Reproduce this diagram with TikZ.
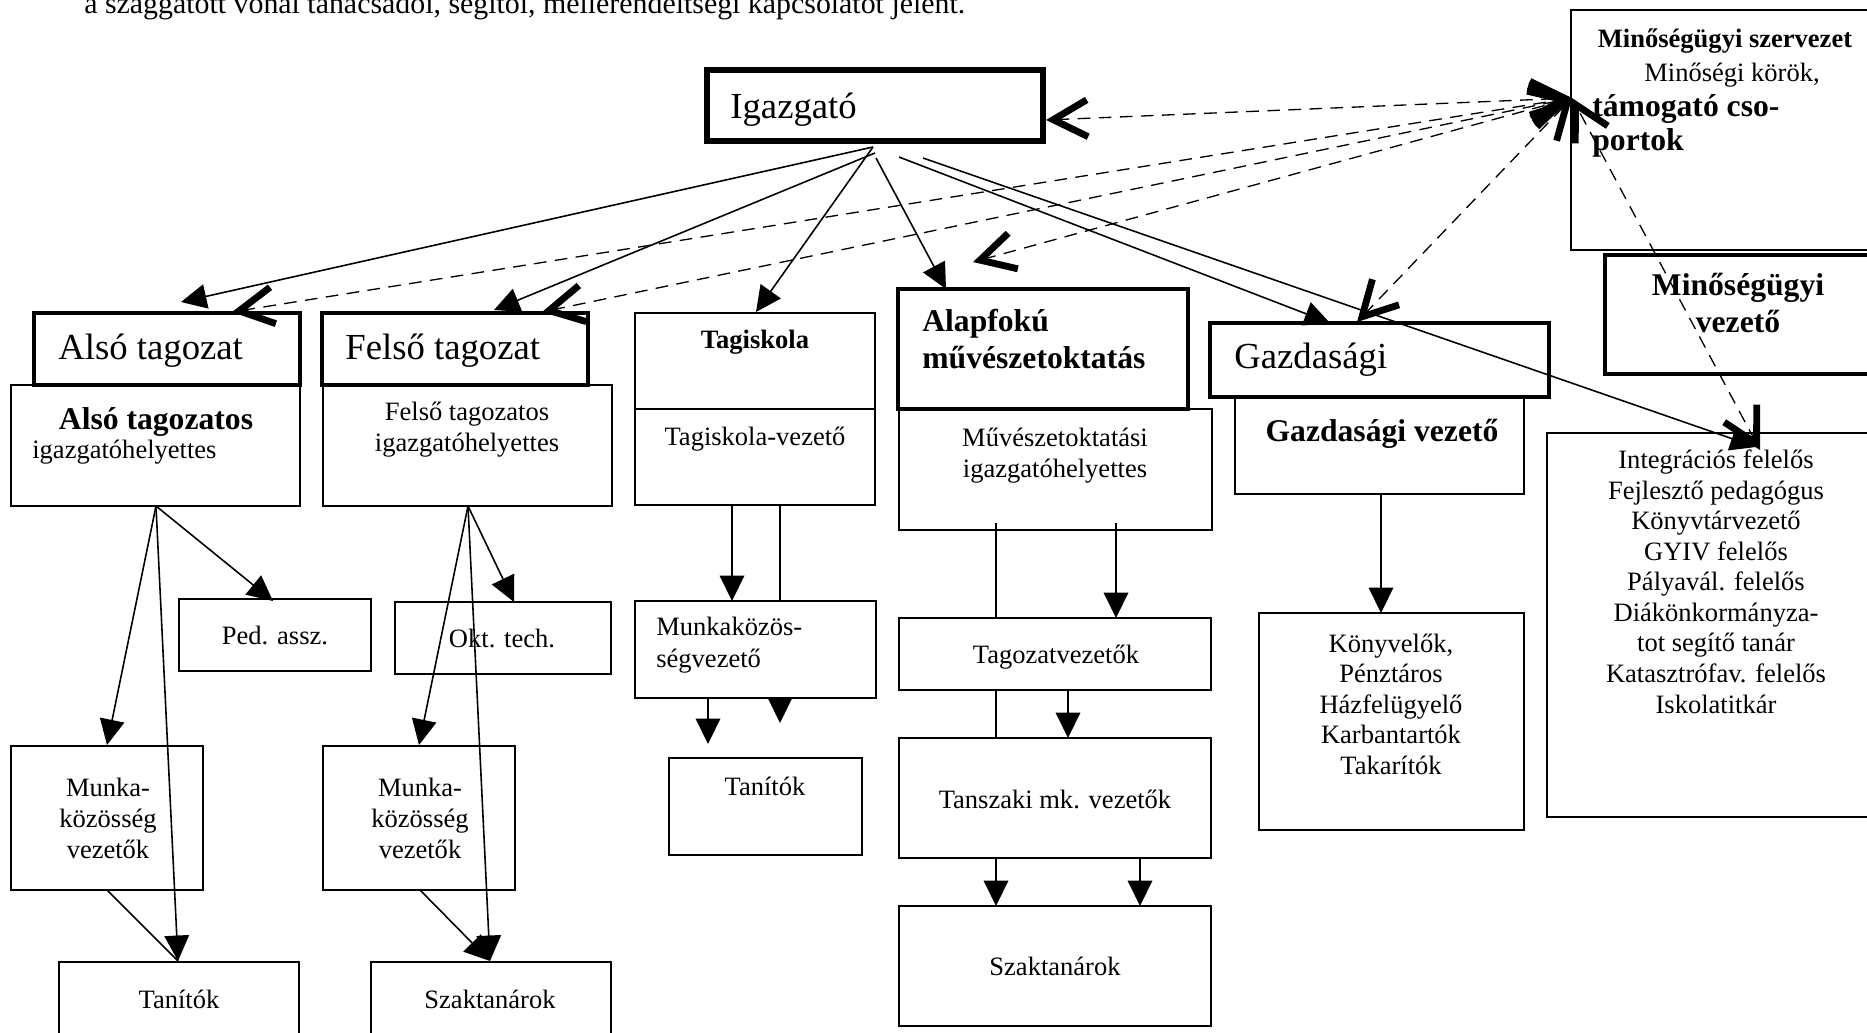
\documentclass[tikz,border=0pt]{standalone}
\usepackage{fontspec}
\setmainfont{Liberation Serif}
\usetikzlibrary{arrows.meta,fit}

\newcommand{\fhead}{\fontsize{17pt}{20pt}\selectfont}
\newcommand{\fbig}{\fontsize{20.9pt}{25pt}\selectfont}
\newcommand{\fmid}{\fontsize{18pt}{20.9pt}\selectfont\bfseries}
\newcommand{\fnorm}{\fontsize{15.1pt}{17.4pt}\selectfont}

\tikzset{
  orgbox/.style={draw, line width=1.15pt, fill=white},
  conn/.style={line width=0.9pt, -{Triangle[length=14.5pt,width=14pt]}},
  bare/.style={line width=0.9pt},
  advice/.style={line width=0.75pt, dash pattern=on 7.2pt off 4.8pt,
    >={Straight Barb[length=19.5pt,width=21pt,line width=3.9pt,sharp]}, <->}
}

\begin{document}
\begin{tikzpicture}[x=0.02cm,y=-0.02cm]
      \tikzstyle{every node}+=[inner sep=0pt]
      \useasboundingbox (0,0) rectangle (1867,1032);
      \node[anchor=base west, font=\fhead] (note) at (84,13) {a szaggatott vonal tanácsadói, segítői, mellérendeltségi kapcsolatot jelent.};
      \node[orgbox, line width=3.6pt, fit={(707,70) (1043,141)}] (igaz) {};
      \node[anchor=base west, font=\fbig] (igazL) at (730,118) {Igazgató};
      \node[orgbox, line width=1.5pt, fit={(1571,10) (1890,250)}] (minoseg) {};
      \node[anchor=base, font=\fnorm\bfseries] (minosegL) at (1725,47) {Minőségügyi szervezet};
      \node[anchor=base, font=\fnorm] (korokL) at (1732,81) {Minőségi körök,};
      \node[anchor=base west, align=left, font=\fontsize{18pt}{18.8pt}\selectfont\bfseries] (csopL) at (1592,150) {támogató cso-\\portok};
      \node[orgbox, fit={(11,385) (300,506)}] (alsoH) {};
      \node[orgbox, line width=1.8pt, fit={(34,313) (300,385)}] (alsoT) {};
      \node[anchor=base west, font=\fbig] (alsoTL) at (58,359) {Alsó tagozat};
      \node[anchor=base, font=\fmid] (alsoHL) at (156,429) {Alsó tagozatos};
      \node[anchor=base west, font=\fnorm] (alsoHL2) at (32,458) {igazgatóhelyettes};
      \node[orgbox, fit={(323,385) (612,506)}] (felsoH) {};
      \node[orgbox, line width=1.8pt, fit={(322,313) (588,385)}] (felsoT) {};
      \node[anchor=base west, font=\fbig] (felsoTL) at (345,359) {Felső tagozat};
      \node[anchor=base, align=center, font=\fnorm] (felsoHL) at (467,451) {Felső tagozatos\\igazgatóhelyettes};
      \node[orgbox, fit={(635,313) (875,409)}] (tagT) {};
      \node[orgbox, fit={(635,409) (875,505)}] (tagH) {};
      \node[anchor=base, font=\fnorm\bfseries] (tagTL) at (755,348) {Tagiskola};
      \node[anchor=base, font=\fnorm] (tagHL) at (755,445) {Tagiskola-vezető};
      \node[orgbox, fit={(899,409) (1212,530)}] (muvH) {};
      \node[orgbox, line width=2pt, fit={(898,289) (1188,409)}] (alapT) {};
      \node[anchor=base west, align=left, font=\fmid] (alapTL) at (922,368) {Alapfokú\\művészetoktatás};
      \node[anchor=base, align=center, font=\fnorm] (muvHL) at (1055,477) {Művészetoktatási\\igazgatóhelyettes};
      \node[orgbox, fit={(1235,397) (1524,494)}] (gazH) {};
      \node[orgbox, line width=1.8pt, fit={(1210,323) (1549,397)}] (gazT) {};
      \node[anchor=base west, font=\fbig] (gazTL) at (1234,368) {Gazdasági};
      \node[anchor=base, font=\fmid] (gazHL) at (1382,441) {Gazdasági vezető};
      \node[orgbox, line width=1.8pt, fit={(1605,255) (1890,374)}] (mvez) {};
      \node[anchor=base, align=center, font=\fmid] (mvezL) at (1738,332) {Minőségügyi\\vezető};
      \node[orgbox, fit={(1547,433) (1890,817)}] (integ) {};
      \node[anchor=base, align=center, font=\fnorm] (integL) at (1716,713) {Integrációs felelős\\Fejlesztő pedagógus\\Könyvtárvezető\\GYIV felelős\\Pályavál. felelős\\Diákönkormányza-\\tot segítő tanár\\Katasztrófav. felelős\\Iskolatitkár};
      \coordinate (tagS2) at (780,505);
      \coordinate (tagEnd) at (780,723);
      \coordinate (muvS1) at (996,523);
      \coordinate (szakAIn1) at (996,906);
      \draw[conn] (tagS2) -- (tagEnd);
      \draw[conn] (muvS1) -- (szakAIn1);
      \node[orgbox, fit={(179,599) (371,671)}] (ped) {};
      \node[anchor=base, font=\fnorm] (pedL) at (275,644) {Ped. assz.};
      \node[orgbox, fit={(11,746) (203,890)}] (mkL) {};
      \node[anchor=base, align=center, font=\fnorm] (mkLL) at (108,858) {Munka-\\közösség\\vezetők};
      \node[orgbox, fit={(59,962) (299,1045)}] (tanL) {};
      \node[anchor=base, font=\fnorm] (tanLL) at (179,1008) {Tanítók};
      \node[orgbox, fit={(395,602) (611,674)}] (okt) {};
      \node[anchor=base, font=\fnorm] (oktL) at (502,647) {Okt. tech.};
      \node[orgbox, fit={(323,746) (515,890)}] (mkR) {};
      \node[anchor=base, align=center, font=\fnorm] (mkRL) at (420,858) {Munka-\\közösség\\vezetők};
      \node[orgbox, fit={(371,962) (611,1045)}] (szakL) {};
      \node[anchor=base, font=\fnorm] (szakLL) at (490,1008) {Szaktanárok};
      \node[orgbox, fit={(635,601) (876,698)}] (mkT) {};
      \node[anchor=base west, align=left, font=\fontsize{15.1pt}{18.2pt}\selectfont] (mkTL) at (656,667) {Munkaközös-\\ségvezető};
      \node[orgbox, fit={(669,758) (862,855)}] (tanT) {};
      \node[anchor=base, font=\fnorm] (tanTL) at (765,795) {Tanítók};
      \node[orgbox, fit={(899,618) (1211,690)}] (tagv) {};
      \node[anchor=base, font=\fnorm] (tagvL) at (1056,663) {Tagozatvezetők};
      \node[orgbox, fit={(899,738) (1211,858)}] (tansz) {};
      \node[anchor=base, font=\fnorm] (tanszL) at (1055,808) {Tanszaki mk. vezetők};
      \node[orgbox, fit={(899,906) (1211,1026)}] (szakA) {};
      \node[anchor=base, font=\fnorm] (szakAL) at (1055,975) {Szaktanárok};
      \node[orgbox, fit={(1259,613) (1524,830)}] (konyv) {};
      \node[anchor=base, align=center, font=\fontsize{15.1pt}{17.3pt}\selectfont] (konyvL) at (1391,774) {Könyvelők,\\Pénztáros\\Házfelügyelő\\Karbantartók\\Takarítók};
      \coordinate (ig1) at (873,147);
      \coordinate (ig2) at (875,153);
      \coordinate (ig3) at (873,147);
      \coordinate (ig4) at (876,158);
      \coordinate (ig5) at (899,157);
      \coordinate (ig6) at (923,158);
      \coordinate (alsoIn) at (181,302);
      \coordinate (felsoIn) at (494,310);
      \coordinate (tagIn) at (756,312);
      \coordinate (alapIn) at (946,289);
      \coordinate (gazIn) at (1330,323);
      \coordinate (integIn) at (1756,447);
      \draw[conn] (ig1) -- (alsoIn);
      \draw[conn] (ig2) -- (felsoIn);
      \draw[conn] (ig3) -- (tagIn);
      \draw[conn] (ig4) -- (alapIn);
      \draw[conn] (ig5) -- (gazIn);
      \draw[conn] (ig6) -- (integIn);
      \coordinate (q) at (1572,98);
      \coordinate (igazB) at (1046,120);
      \coordinate (alsoB) at (232,312);
      \coordinate (felsoB) at (542,312);
      \coordinate (alapB) at (973,262);
      \coordinate (gazB) at (1357,322);
      \coordinate (integB) at (1760,450);
      \draw[advice] (igazB) -- (q);
      \draw[advice] (alsoB) -- (q);
      \draw[advice] (felsoB) -- (q);
      \draw[advice] (alapB) -- (q);
      \draw[advice] (gazB) -- (q);
      \draw[advice] (integB) -- (q);
      \coordinate (alsoS) at (156,506);
      \coordinate (pedIn) at (273,601);
      \coordinate (mkLIn) at (107,745);
      \coordinate (tanLIn) at (178,961);
      \coordinate (mkLS) at (107,890);
      \draw[conn] (alsoS) -- (pedIn);
      \draw[conn] (alsoS) -- (mkLIn);
      \draw[conn] (alsoS) -- (tanLIn);
      \draw[bare] (mkLS) -- (tanLIn);
      \coordinate (felsoS) at (468,506);
      \coordinate (oktIn) at (514,602);
      \coordinate (mkRIn) at (419,745);
      \coordinate (szakLIn) at (490,961);
      \coordinate (mkRS) at (420,890);
      \draw[conn] (felsoS) -- (oktIn);
      \draw[conn] (felsoS) -- (mkRIn);
      \draw[conn] (felsoS) -- (szakLIn);
      \draw[conn] (mkRS) -- (szakLIn);
      \coordinate (tagS1) at (732,505);
      \coordinate (mkTIn) at (732,601);
      \coordinate (mkTS) at (708,698);
      \coordinate (tanTIn) at (708,744);
      \draw[conn] (tagS1) -- (mkTIn);
      \draw[conn] (mkTS) -- (tanTIn);
      \coordinate (muvS2) at (1116,523);
      \coordinate (tagvIn) at (1116,618);
      \coordinate (tagvS) at (1068,690);
      \coordinate (tanszIn) at (1068,738);
      \coordinate (tanszS) at (1140,858);
      \coordinate (szakAIn2) at (1140,906);
      \draw[conn] (muvS2) -- (tagvIn);
      \draw[conn] (tagvS) -- (tanszIn);
      \draw[conn] (tanszS) -- (szakAIn2);
      \coordinate (gazS) at (1381,494);
      \coordinate (konyvIn) at (1381,613);
      \draw[conn] (gazS) -- (konyvIn);
\end{tikzpicture}
\end{document}
